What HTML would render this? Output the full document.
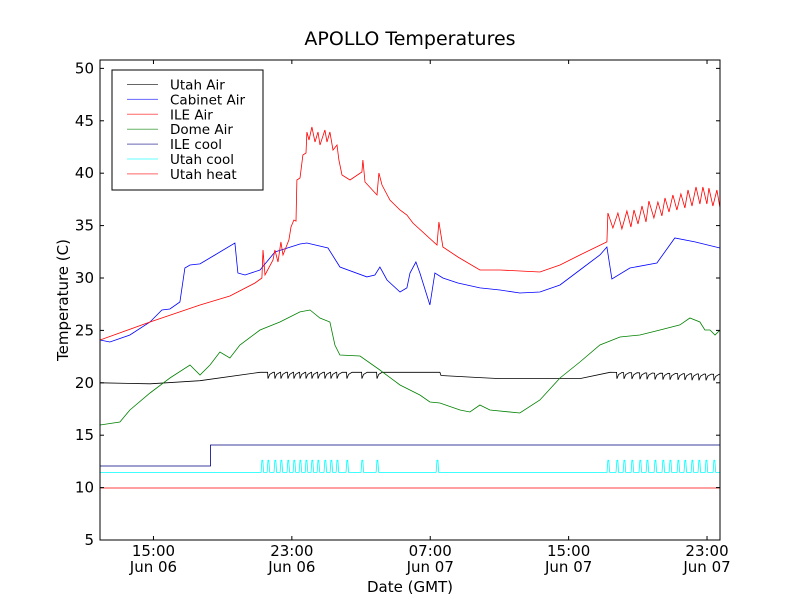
<!DOCTYPE html>
<html><head><meta charset="utf-8"><style>
body{margin:0;background:#fff;}
svg{display:block;font-family:"DejaVu Sans","Liberation Sans",sans-serif;}
</style></head><body>
<svg id="chart" width="800" height="600" viewBox="0 0 800 600">
<rect x="0" y="0" width="800" height="600" fill="#fff"/>
<text x="410" y="45" font-size="19" text-anchor="middle">APOLLO Temperatures</text>
<text x="410" y="592" font-size="15" text-anchor="middle">Date (GMT)</text>
<text transform="translate(68,300) rotate(-90)" font-size="15" text-anchor="middle">Temperature (C)</text>
<g id="plot"></g>
</svg>
<script>
const yTicks=[5,10,15,20,25,30,35,40,45,50];
const xTickHours=[15,23,31,39,47];
const xTickTimes=["15:00","23:00","07:00","15:00","23:00"];
const xTickDates=["Jun 06","Jun 06","Jun 07","Jun 07","Jun 07"];
const seriesNames=["Utah Air","Cabinet Air","ILE Air","Dome Air","ILE cool","Utah cool","Utah heat"];
const blueH=[11.91,12.48,13.64,14.80,15.49,15.95,16.53,16.82,17.11,17.69,18.55,19.71,19.88,20.29,21.16,22.02,23.47,23.87,25.09,25.78,27.34,27.80,28.09,28.50,29.25,29.65,29.83,30.17,30.40,30.98,31.27,31.73,32.60,33.87,35.03,36.18,37.34,38.50,39.65,40.81,41.21,41.50,42.54,44.10,45.14,46.30,47.75];
const blueV=[24.08,23.89,24.56,25.80,26.95,27.04,27.71,30.95,31.24,31.34,32.19,33.34,30.48,30.29,30.76,32.48,33.24,33.34,32.86,31.05,30.10,30.29,31.05,29.81,28.66,29.05,30.48,31.53,30.48,27.42,30.48,30.00,29.52,29.05,28.85,28.57,28.66,29.33,30.76,32.19,32.96,29.90,30.95,31.43,33.82,33.44,32.86];
const redH=[11.91,14.80,17.69,19.42,20.87,21.27,21.33,21.45,21.91,22.02,22.20,22.37,22.49,22.83,22.95,23.12,23.24,23.29,23.47,23.64,23.82,23.87,23.99,24.16,24.34,24.51,24.63,24.91,25.03,25.20,25.38,25.61,25.72,25.90,26.36,27.05,27.11,27.23,27.92,28.03,28.21,28.67,29.25,29.65,30.00,31.39,31.50,31.73,32.60,33.87,35.03,37.34,38.50,39.65,41.21,41.27,41.56,41.85,42.08,42.37,42.60,42.78,43.01,43.24,43.47,43.64,43.93,44.16,44.39,44.57,44.80,45.03,45.26,45.49,45.72,45.90,46.13,46.36,46.59,46.76,46.99,47.11,47.34,47.57,47.75];
const redV=[24.08,25.80,27.42,28.28,29.52,30.00,32.67,30.29,31.72,32.67,31.53,33.44,32.19,33.63,34.87,35.53,35.43,39.35,39.54,41.74,41.93,43.93,43.17,44.41,42.98,43.93,42.69,44.12,42.98,43.93,42.21,42.69,41.26,39.83,39.35,40.11,41.26,39.16,37.92,40.02,38.87,37.44,36.49,36.01,35.25,33.15,35.34,32.96,32.00,30.76,30.76,30.57,31.24,32.19,33.44,36.20,34.77,36.20,34.68,36.39,34.87,36.49,35.15,36.87,35.34,37.35,35.72,37.25,35.92,37.63,36.30,37.92,36.49,38.02,36.68,38.40,36.87,38.68,37.06,38.68,37.06,38.59,36.87,38.40,36.68];
const greenH=[11.91,13.06,13.64,14.80,15.95,17.11,17.69,18.27,18.84,19.42,20.00,21.16,22.31,23.47,24.05,24.62,25.20,25.49,25.78,26.94,28.09,29.25,30.40,30.98,31.56,32.72,33.29,33.87,34.45,36.18,37.34,38.50,39.65,40.81,41.97,43.12,44.28,45.43,46.01,46.59,46.88,47.17,47.46,47.75];
const greenV=[15.97,16.26,17.40,19.03,20.46,21.70,20.74,21.70,22.94,22.37,23.61,25.04,25.80,26.76,26.95,26.18,25.80,23.61,22.65,22.56,21.22,19.79,18.84,18.17,18.07,17.40,17.21,17.88,17.40,17.12,18.36,20.46,21.98,23.61,24.37,24.56,25.04,25.52,26.18,25.80,25.04,25.04,24.56,25.04];
const blackH=[11.91,14.80,17.69,21.16,31.56,31.62,33.87,35.03,39.65,41.39,47.75];
const blackV=[20.0,19.9,20.2,21.0,21.0,20.7,20.5,20.4,20.4,21.0,20.8];
const blackDipHours=[21.62,22.02,22.37,22.77,23.12,23.47,23.82,24.16,24.51,24.91,25.26,25.61,26.18,27.05,27.92,41.79,42.20,42.66,43.12,43.53,43.99,44.45,44.86,45.32,45.72,46.13,46.53,46.94,47.40];
const coolSpikeHours=[21.27,21.62,22.02,22.37,22.77,23.12,23.47,23.82,24.16,24.51,24.91,25.26,25.61,26.18,27.05,27.92,31.39,41.27,41.79,42.20,42.66,43.12,43.53,43.99,44.45,44.86,45.32,45.72,46.13,46.53,46.94,47.40];
const coolBase=11.45, coolPeak=12.6;
const ileCoolH=[11.91,18.30,18.30,47.75];
const ileCoolV=[12.06,12.06,14.06,14.06];
const heatH=[11.91,47.75];
const heatV=[9.96,9.96];

const L=100,R=720,T=60,B=540,H0=11.91,H1=47.75,V0=5,V1=50.8;
const X=h=>L+(h-H0)/(H1-H0)*(R-L);
const Y=v=>B-(v-V0)/(V1-V0)*(B-T);
const NS="http://www.w3.org/2000/svg";
const plot=document.getElementById('plot');
function mk(tag,attrs,parent){const e=document.createElementNS(NS,tag);for(const k in attrs)e.setAttribute(k,attrs[k]);(parent||plot).appendChild(e);return e;}
function pathFrom(hs,vs){return hs.map((h,i)=>(i?'L':'M')+X(h).toFixed(1)+' '+Y(vs[i]).toFixed(1)).join(' ');}
function interp(hs,vs,h){for(let i=1;i<hs.length;i++){if(h<=hs[i]){const t=(h-hs[i-1])/(hs[i]-hs[i-1]||1);return vs[i-1]+t*(vs[i]-vs[i-1]);}}return vs[vs.length-1];}

const defs=mk('defs',{});const cp=mk('clipPath',{id:'clip'},defs);mk('rect',{x:L,y:T,width:R-L,height:B-T},cp);
const g=mk('g',{'clip-path':'url(#clip)'});

let bh=[],bv=[];
let pts=blackH.map((h,i)=>[h,blackV[i]]);
blackDipHours.forEach(d=>{const b=interp(blackH,blackV,d);pts.push([d-0.02,b]);pts.push([d,b-0.6]);pts.push([d+0.1,b-0.2]);pts.push([d+0.3,b]);});
pts.sort((a,b)=>a[0]-b[0]);pts.forEach(p=>{bh.push(p[0]);bv.push(p[1]);});
let ch=[H0],cv=[coolBase];
coolSpikeHours.forEach(s=>{ch.push(s-0.05,s,s+0.05,s+0.1);cv.push(coolBase,coolPeak,coolPeak,coolBase);});
ch.push(H1);cv.push(coolBase);

const series=[
 {name:'utah-air-line',h:bh,v:bv,c:'#000'},
 {name:'cabinet-air-line',h:blueH,v:blueV,c:'#0000ff'},
 {name:'ile-air-line',h:redH,v:redV,c:'#ff0000'},
 {name:'dome-air-line',h:greenH,v:greenV,c:'#008000'},
 {name:'ile-cool-line',h:ileCoolH,v:ileCoolV,c:'#000080'},
 {name:'utah-cool-line',h:ch,v:cv,c:'#00ffff'},
 {name:'utah-heat-line',h:heatH,v:heatV,c:'#ff0000'}
];
series.forEach(s=>{
 const p=mk('path',{d:pathFrom(s.h,s.v),fill:'none',stroke:s.c,'stroke-width':0.8},g);
 
 
});

const fr=mk('rect',{x:L,y:T,width:R-L,height:B-T,fill:'none',stroke:'#000','stroke-width':1});



yTicks.forEach(v=>{
 const y=Y(v);
 mk('line',{x1:L,x2:L+4,y1:y,y2:y,stroke:'#000'});
 mk('line',{x1:R-4,x2:R,y1:y,y2:y,stroke:'#000'});
 const t=mk('text',{x:L-6,y:y+5,'font-size':15,'text-anchor':'end'});
 t.textContent=v;
 
 
});
xTickHours.forEach((h,i)=>{
 const x=X(h);
 mk('line',{x1:x,x2:x,y1:B,y2:B-4,stroke:'#000'});
 mk('line',{x1:x,x2:x,y1:T,y2:T+4,stroke:'#000'});
 const t=mk('text',{x:x,y:B+16,'font-size':15,'text-anchor':'middle'});
 t.textContent=xTickTimes[i];
 
 
 const t2=mk('text',{x:x,y:B+32,'font-size':15,'text-anchor':'middle'});
 t2.textContent=xTickDates[i];
 
 
});

const lg=mk('g',{});


mk('rect',{x:112,y:70,width:151,height:120,fill:'#fff',stroke:'#000','stroke-width':1},lg);
seriesNames.forEach((n,i)=>{
 const y=84.5+i*14.9;
 const e=mk('g',{},lg);
 
 
 mk('line',{x1:127,x2:158,y1:y,y2:y,stroke:series[i].c,'stroke-width':1,'stroke-opacity':0.6},e);
 const t=mk('text',{x:170,y:y+5,'font-size':13.5},e);
 t.textContent=n;
});
</script>
</body></html>
